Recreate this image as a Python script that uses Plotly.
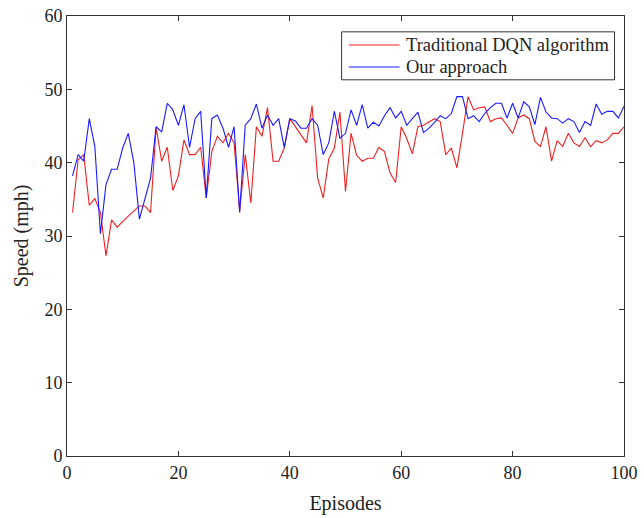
import plotly.graph_objects as go

episodes = list(range(1, 101))

dqn_speed = [
    33.2, 40.4, 41.1, 34.2, 35.1, 33.2, 27.3, 32.2, 31.2, 32.0,
    32.7, 33.4, 34.1, 34.1, 33.2, 44.8, 40.2, 42.1, 36.2, 38.2,
    43.1, 41.1, 41.1, 42.1, 35.2, 41.5, 43.6, 42.7, 44.0, 42.7,
    33.4, 41.1, 34.5, 44.9, 43.6, 47.5, 40.2, 40.2, 42.0, 46.0,
    44.9, 43.8, 42.7, 47.8, 37.9, 35.2, 40.5, 42.0, 46.9, 36.1,
    44.0, 41.0, 40.2, 40.6, 40.6, 42.1, 41.5, 38.6, 37.3, 44.9,
    43.3, 41.2, 44.9, 45.1, 45.6, 46.0, 45.6, 41.1, 42.0, 39.3,
    44.0, 49.0, 47.2, 47.5, 47.6, 45.6, 46.0, 46.1, 45.1, 44.0,
    46.1, 46.5, 46.0, 42.9, 42.2, 44.9, 40.2, 43.0, 42.2, 44.0,
    42.7, 42.2, 43.4, 42.2, 43.0, 42.7, 43.1, 44.0, 44.0, 44.9,
]

our_speed = [
    38.2, 41.1, 40.2, 46.0, 42.2, 30.3, 37.0, 39.1, 39.1, 42.0,
    44.0, 40.0, 32.3, 35.0, 37.9, 44.9, 44.2, 48.1, 47.2, 45.1,
    47.9, 42.1, 46.0, 47.0, 35.2, 46.0, 46.5, 44.7, 42.1, 44.9,
    33.2, 45.1, 46.0, 48.0, 44.7, 46.5, 45.1, 46.0, 42.1, 46.0,
    45.7, 44.7, 44.7, 46.0, 45.1, 41.1, 42.7, 47.0, 43.3, 44.0,
    47.2, 45.1, 47.9, 44.7, 45.5, 45.0, 46.4, 47.5, 46.1, 47.0,
    45.1, 46.0, 46.9, 44.1, 44.7, 45.5, 46.4, 46.0, 46.7, 49.0,
    49.0, 46.0, 46.4, 45.6, 46.7, 47.5, 48.1, 48.1, 46.1, 48.1,
    46.1, 48.3, 47.6, 45.2, 48.9, 46.9, 46.1, 46.0, 45.4, 46.0,
    45.6, 44.1, 45.6, 45.1, 48.0, 46.6, 47.0, 47.0, 46.1, 47.7,
]

series_names = ["Traditional DQN algorithm", "Our approach"]
series_colors = ["#f02020", "#1a1aff"]

x_ticks = [0, 20, 40, 60, 80, 100]
y_ticks = [0, 10, 20, 30, 40, 50, 60]

font_family = "Liberation Serif, Times New Roman, serif"

fig = go.Figure()
for name, values, color in zip(series_names, [dqn_speed, our_speed], series_colors):
    fig.add_trace(go.Scatter(
        x=episodes, y=values, mode="lines", name=name,
        line=dict(color=color, width=1.1), showlegend=False,
    ))

# Custom legend box (paper coordinates) to match compact original legend
box = dict(x0=0.493, x1=0.983, y0=0.855, y1=0.964)
fig.add_shape(type="rect", xref="paper", yref="paper", layer="above",
              line=dict(color="#333333", width=1), fillcolor="white", **box)
legend_rows = [0.934, 0.884]
for name, color, ly in zip(series_names, series_colors, legend_rows):
    fig.add_shape(type="line", xref="paper", yref="paper", layer="above",
                  x0=0.506, x1=0.597, y0=ly, y1=ly,
                  line=dict(color=color, width=1.1))
    fig.add_annotation(xref="paper", yref="paper", x=0.605, y=ly,
                       xanchor="left", yanchor="middle", showarrow=False,
                       text=name,
                       font=dict(family=font_family, size=18.5, color="#222222"))

axis_common = dict(
    showgrid=False, zeroline=False, showline=True,
    linecolor="#333333", linewidth=1, mirror="ticks",
    ticks="inside", ticklen=5, tickcolor="#333333",
    tickfont=dict(family=font_family, size=18, color="#222222"),
    automargin=False, ticklabeloverflow="allow",
)

fig.update_layout(
    width=644, height=518,
    margin=dict(l=67, r=20, t=16, b=62),
    paper_bgcolor="white", plot_bgcolor="white",
    font=dict(family=font_family, color="#222222"),
    showlegend=False,
    hovermode=False,
    xaxis=dict(
        range=[0, 100], tickvals=x_ticks,
        title=dict(text="Episodes", font=dict(family=font_family, size=20), standoff=14),
        **axis_common,
    ),
    yaxis=dict(
        range=[0, 60], tickvals=y_ticks,
        title=dict(text="Speed (mph)", font=dict(family=font_family, size=20), standoff=10),
        **axis_common,
    ),
)

fig.write_html("out.html", config={"displayModeBar": False},
               post_script="document.body.style.margin='0';")
